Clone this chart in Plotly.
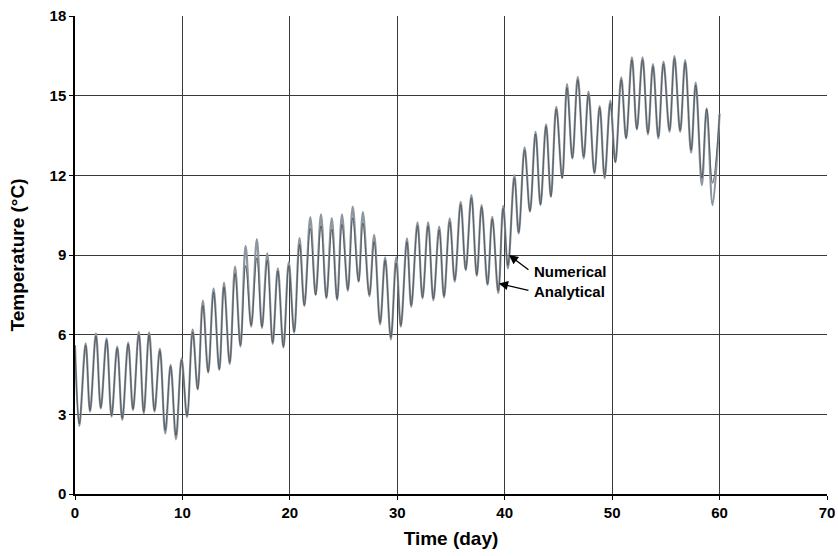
import plotly.graph_objects as go

# Times of the daily extrema (days)
times = [0.0, 0.4, 0.99, 1.4, 1.95, 2.4, 2.94, 3.4, 3.93, 4.4, 4.95, 5.4, 5.94, 6.4, 6.9, 7.4,
         7.9, 8.4, 8.9, 9.4, 9.92, 10.43, 10.95, 11.42, 11.9, 12.4, 12.9, 13.43, 13.87, 14.4,
         14.9, 15.4, 15.88, 16.4, 16.93, 17.4, 17.9, 18.4, 18.88, 19.4, 19.9, 20.4, 20.9, 21.35,
         21.9, 22.4, 22.9, 23.4, 23.9, 24.4, 24.85, 25.4, 25.85, 26.4, 26.8, 27.4, 27.85, 28.4,
         28.87, 29.4, 29.9, 30.33, 30.9, 31.3, 31.88, 32.35, 32.87, 33.36, 33.9, 34.35, 34.88,
         35.35, 35.9, 36.37, 36.9, 37.4, 37.85, 38.4, 38.84, 39.4, 39.86, 40.3, 40.9, 41.3,
         41.85, 42.35, 42.87, 43.33, 43.85, 44.3, 44.8, 45.35, 45.8, 46.3, 46.8, 47.35, 47.8,
         48.35, 48.84, 49.3, 49.83, 50.3, 50.85, 51.3, 51.84, 52.3, 52.83, 53.33, 53.8, 54.3,
         54.78, 55.34, 55.8, 56.33, 56.8, 57.35, 57.78, 58.35, 58.8, 59.35, 60.0]

analytical = [5.6, 2.56, 5.67, 3.10, 6.05, 3.22, 5.86, 2.91, 5.55, 2.79, 5.70, 3.16, 6.11, 3.04,
              6.09, 3.10, 5.48, 2.28, 4.86, 2.06, 5.11, 2.89, 6.2, 3.94, 7.28, 4.57, 7.74, 4.67,
              7.96, 4.89, 8.56, 5.55, 9.34, 6.3, 9.6, 6.25, 9.06, 5.65, 8.5, 5.52, 8.73, 6.08,
              9.64, 7.08, 10.43, 7.49, 10.53, 7.37, 10.39, 7.30, 10.53, 7.65, 10.82, 8.0, 10.62,
              7.45, 9.76, 6.39, 8.91, 5.82, 8.91, 6.3, 9.63, 7.05, 10.23, 7.37, 10.23, 7.30,
              10.07, 7.40, 10.38, 8.0, 11.0, 8.43, 11.26, 8.21, 10.88, 7.87, 10.44, 7.56, 10.85,
              8.5, 12.01, 9.81, 13.05, 10.63, 13.64, 10.88, 13.92, 11.19, 14.58, 11.89, 15.44,
              12.64, 15.71, 12.64, 15.15, 12.07, 14.61, 11.89, 14.81, 12.49, 15.69, 13.39, 16.44,
              13.73, 16.44, 13.54, 16.19, 13.39, 16.28, 13.64, 16.49, 13.64, 16.34, 12.85, 15.49,
              11.63, 14.52, 10.88, 14.33]

numerical = [5.6, 2.65, 5.6, 3.15, 5.95, 3.25, 5.8, 2.95, 5.5, 2.85, 5.65, 3.2, 6.0, 3.1,
             6.0, 3.15, 5.4, 2.4, 4.8, 2.2, 5.05, 2.95, 6.1, 3.95, 7.1, 4.6, 7.6, 4.7,
             7.8, 4.95, 8.3, 5.6, 8.6, 6.35, 8.9, 6.3, 8.8, 5.7, 8.4, 5.55, 8.6, 6.1,
             9.4, 7.1, 10.0, 7.5, 10.1, 7.4, 9.97, 7.35, 10.15, 7.7, 10.4, 8.0, 10.2,
             7.5, 9.5, 6.45, 8.8, 5.9, 8.7, 6.35, 9.5, 7.1, 10.1, 7.4, 10.1, 7.35,
             9.95, 7.45, 10.25, 8.05, 10.9, 8.45, 11.15, 8.25, 10.8, 7.9, 10.35, 7.65, 10.75,
             8.6, 11.9, 9.85, 12.95, 10.65, 13.55, 10.9, 13.85, 11.2, 14.5, 11.9, 15.3,
             12.65, 15.6, 12.7, 15.05, 12.1, 14.55, 11.95, 14.7, 12.5, 15.6, 13.4, 16.35,
             13.75, 16.35, 13.6, 16.1, 13.45, 16.2, 13.7, 16.4, 13.7, 16.25, 12.95, 15.4,
             11.9, 14.5, 11.7, 14.3]

x_ticks = [0, 10, 20, 30, 40, 50, 60, 70]
y_ticks = [0, 3, 6, 9, 12, 15, 18]

font_family = "Liberation Sans, Arial, sans-serif"

fig = go.Figure()
fig.add_trace(go.Scatter(x=times, y=analytical, mode="lines", name="Analytical",
                         line=dict(color="#8e979f", width=2.2, shape="spline", smoothing=1.0)))
fig.add_trace(go.Scatter(x=times, y=numerical, mode="lines", name="Numerical",
                         line=dict(color="#474d52", width=0.8, shape="spline", smoothing=1.0)))

# Labels with arrows
fig.add_annotation(x=40.4, y=9.0, ax=42.35, ay=8.4, xref="x", yref="y", axref="x", ayref="y",
                   text="", showarrow=True, arrowhead=2, arrowsize=1.4, arrowwidth=1.3,
                   arrowcolor="#000000")
fig.add_annotation(x=39.46, y=7.93, ax=42.35, ay=7.65, xref="x", yref="y", axref="x", ayref="y",
                   text="", showarrow=True, arrowhead=2, arrowsize=1.4, arrowwidth=1.3,
                   arrowcolor="#000000")
fig.add_annotation(x=42.55, y=8.37, xref="x", yref="y", text="<b>Numerical</b>", showarrow=False,
                   xanchor="left", yanchor="middle", font=dict(size=15, color="#000", family=font_family))
fig.add_annotation(x=42.55, y=7.62, xref="x", yref="y", text="<b>Analytical</b>", showarrow=False,
                   xanchor="left", yanchor="middle", font=dict(size=15, color="#000", family=font_family))

axis_common = dict(
    showgrid=True, gridcolor="#3a3a3a", gridwidth=1,
    showline=True, linecolor="#000000", linewidth=1.5,
    ticks="outside", ticklen=4, tickcolor="#000000", tickwidth=1,
    zeroline=False, automargin=False,
    tickfont=dict(size=15, color="#000", family=font_family),
)

fig.update_xaxes(range=[0, 70], tickvals=x_ticks, ticktext=[f"<b>{v}</b>" for v in x_ticks],
                 title=dict(text="<b>Time (day)</b>", font=dict(size=19, color="#000", family=font_family),
                            standoff=12),
                 **axis_common)
fig.update_yaxes(range=[0, 18], tickvals=y_ticks, ticktext=[f"<b>{v}</b>" for v in y_ticks],
                 title=dict(text="<b>Temperature (°C)</b>", font=dict(size=19, color="#000", family=font_family),
                            standoff=20),
                 **axis_common)

fig.update_layout(
    width=838, height=556,
    margin=dict(l=75, r=11, t=16, b=62),
    plot_bgcolor="#ffffff", paper_bgcolor="#ffffff",
    showlegend=False,
    font=dict(family=font_family, color="#000"),
)

fig.write_html("out.html")
